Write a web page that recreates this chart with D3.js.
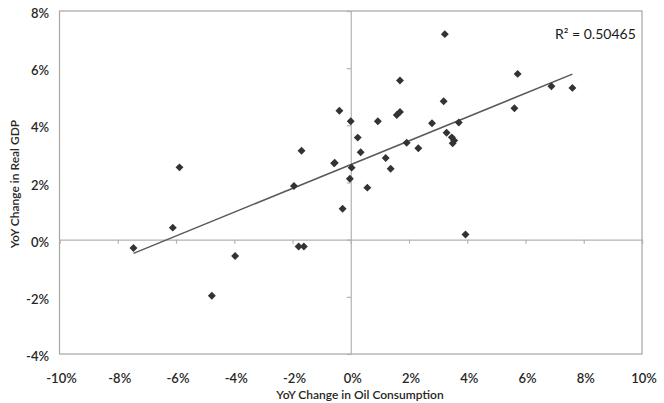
<!DOCTYPE html>
<html>
<head>
<meta charset="utf-8">
<script src="https://cdn.jsdelivr.net/npm/d3@7"></script>
<style>
  body { margin: 0; background: #fff; }
  svg { display: block; font-family: Lato, "Open Sans", sans-serif; }
</style>
</head>
<body>
<svg id="chart" width="664" height="403"></svg>
<script>
// YoY change in oil consumption (%) vs YoY change in real GDP (%)
const oilChange = [-7.46, -6.11, -5.88, -4.77, -3.97, -1.95, -1.69, -1.79, -1.61, -0.57,
  -0.55, -0.39, 0.0, 0.93, 1.58, 1.69, 1.69, 0.24, 0.34, 1.92, 2.32, 1.2, 1.37, 0.03,
  -0.03, 0.57, -0.28, 3.23, 5.73, 6.89, 7.61, 5.62, 3.19, 2.79, 3.71, 3.29, 3.47,
  3.55, 3.5, 3.94];
const gdpChange = [-0.29, 0.42, 2.53, -1.96, -0.57, 1.88, 3.11, -0.24, -0.24, 2.67,
  2.69, 4.51, 4.14, 4.14, 4.36, 4.47, 5.57, 3.57, 3.06, 3.39, 3.2, 2.86, 2.48, 2.52,
  2.13, 1.82, 1.08, 7.19, 5.8, 5.37, 5.31, 4.6, 4.84, 4.07, 4.1, 3.74, 3.58,
  3.47, 3.37, 0.18];
const xTicks = [-10, -8, -6, -4, -2, 0, 2, 4, 6, 8, 10];
const yTicks = [-4, -2, 0, 2, 4, 6, 8];
const rSquaredLabel = "R\u00b2 = 0.50465";

const points = oilChange.map((x, i) => ({ x, y: gdpChange[i] }));

const svg = d3.select("#chart");
const plot = { left: 59.5, right: 642, top: 11, bottom: 354 };

const x = d3.scaleLinear().domain([-10, 10]).range([plot.left, plot.right]);
const y = d3.scaleLinear().domain([-4, 8]).range([plot.bottom, plot.top]);

// plot area border
svg.append("rect")
  .attr("x", plot.left).attr("y", plot.top)
  .attr("width", plot.right - plot.left).attr("height", plot.bottom - plot.top)
  .attr("fill", "none").attr("stroke", "#a6a6a6").attr("stroke-width", 1.2);

// axes crossing at zero
const xAxis = d3.axisBottom(x).tickValues(xTicks).tickSize(4).tickFormat("");
const yAxis = d3.axisLeft(y).tickValues(yTicks).tickSize(4).tickFormat("");

svg.append("g")
  .attr("transform", `translate(0,${y(0)})`)
  .call(xAxis)
  .call(g => g.selectAll("path, line").attr("stroke", "#b3b3b3").attr("stroke-width", 1.2));

svg.append("g")
  .attr("transform", `translate(${x(0)},0)`)
  .call(yAxis)
  .call(g => g.selectAll("path, line").attr("stroke", "#b3b3b3").attr("stroke-width", 1.2));

// tick labels
svg.append("g").selectAll("text")
  .data(xTicks)
  .join("text")
  .attr("x", d => x(d) + 2)
  .attr("y", 383)
  .attr("text-anchor", "middle")
  .attr("font-size", 13).attr("font-weight", 600).attr("fill", "#262626")
  .text(d => d + "%");

svg.append("g").selectAll("text")
  .data(yTicks)
  .join("text")
  .attr("x", 49)
  .attr("y", d => y(d) + 7)
  .attr("text-anchor", "end")
  .attr("font-size", 13).attr("font-weight", 600).attr("fill", "#262626")
  .text(d => d + "%");

// axis titles
svg.append("text")
  .attr("x", 360).attr("y", 399)
  .attr("text-anchor", "middle")
  .attr("font-size", 12).attr("font-weight", 600).attr("fill", "#262626")
  .text("YoY Change in Oil Consumption");

svg.append("text")
  .attr("transform", "translate(19,184) rotate(-90)")
  .attr("text-anchor", "middle")
  .attr("font-size", 12).attr("font-weight", 600).attr("fill", "#262626")
  .text("YoY Change in Real GDP");

// linear trendline (least squares)
const mx = d3.mean(points, d => d.x), my = d3.mean(points, d => d.y);
const slope = d3.sum(points, d => (d.x - mx) * (d.y - my)) / d3.sum(points, d => (d.x - mx) ** 2);
const intercept = my - slope * mx;
const [xMin, xMax] = d3.extent(points, d => d.x);

svg.append("line")
  .attr("x1", x(xMin)).attr("y1", y(intercept + slope * xMin))
  .attr("x2", x(xMax)).attr("y2", y(intercept + slope * xMax))
  .attr("stroke", "#595959").attr("stroke-width", 1.5);

// diamond markers
const diamond = d3.symbol().type(d3.symbolDiamond2).size(40);
svg.append("g").selectAll("path")
  .data(points)
  .join("path")
  .attr("transform", d => `translate(${x(d.x)},${y(d.y)})`)
  .attr("d", diamond)
  .attr("fill", "#333");

svg.append("text")
  .attr("x", 555).attr("y", 38.5)
  .attr("font-size", 14).attr("fill", "#1a1a1a")
  .text(rSquaredLabel);
</script>
</body>
</html>
